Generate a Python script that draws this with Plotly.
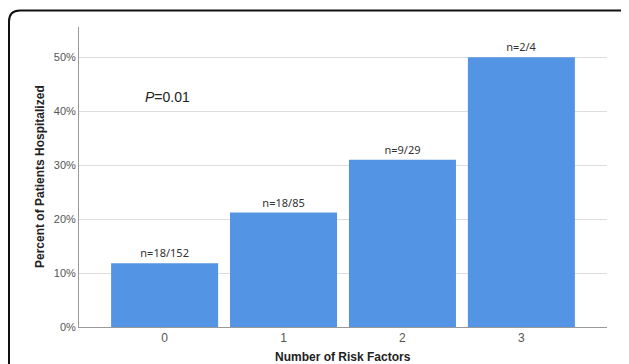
import plotly.graph_objects as go

categories = ["0", "1", "2", "3"]
percent_hospitalized = [11.8, 21.2, 31.0, 50.0]
bar_labels = ["n=18/152", "n=18/85", "n=9/29", "n=2/4"]
y_ticks = [0, 10, 20, 30, 40, 50]
y_tick_labels = ["0%", "10%", "20%", "30%", "40%", "50%"]

fig = go.Figure()
fig.add_trace(go.Bar(
    x=[0, 1, 2, 3],
    y=percent_hospitalized,
    marker=dict(color="#5494e4", line=dict(width=0)),
    text=bar_labels,
    textposition="outside",
    textfont=dict(family="Noto Sans, Liberation Sans, sans-serif", size=11, color="#333333"),
    cliponaxis=False,
    hoverinfo="skip",
))

# page body has an 8px margin; work in screen pixels and convert
OFF = 8
W, H = 621, 356
L, R, T, B = 71, 22, 19, 37
pw, ph = W - L - R, H - T - B

def px2x(sx):
    return (sx - OFF - L) / pw

def py2y(sy):
    return (H - B - (sy - OFF)) / ph

# rounded border: left side, top edge, and the start of the top-right corner
xl, xr, xe = px2x(9), px2x(625), px2x(629)
yb, yt = py2y(380), py2y(10.5)
rx, ry = 11 / pw, 11 / ph
path = (f"M {xl},{yb} L {xl},{yt-ry} Q {xl},{yt} {xl+rx},{yt} "
        f"L {xr},{yt} Q {xe},{yt} {xe},{py2y(14)}")

fig.update_layout(
    width=W, height=H,
    margin=dict(l=L, r=R, t=T, b=B),
    plot_bgcolor="white", paper_bgcolor="white",
    showlegend=False,
    bargap=0.1,
    font=dict(family="Liberation Sans, Arial, sans-serif", size=11, color="#555555"),
    xaxis=dict(
        range=[-0.72, 3.72],
        tickmode="array", tickvals=[0, 1, 2, 3], ticktext=categories,
        showgrid=False, zeroline=False,
        showline=True, linecolor="#999999", linewidth=1,
        ticks="", tickfont=dict(size=12, color="#555555"),
        fixedrange=True,
    ),
    yaxis=dict(
        range=[0, 55.6],
        tickmode="array", tickvals=y_ticks, ticktext=y_tick_labels,
        showgrid=True, gridcolor="#dddddd", gridwidth=1,
        zeroline=False,
        showline=True, linecolor="#999999", linewidth=1,
        ticks="", tickfont=dict(size=11, color="#555555"),
        fixedrange=True,
    ),
    shapes=[dict(type="path", path=path, xref="paper", yref="paper",
                 line=dict(color="#111111", width=2), layer="above")],
    annotations=[
        dict(text="<i>P</i>=0.01", x=px2x(143), y=py2y(97), xref="paper", yref="paper",
             xanchor="left", yanchor="middle", showarrow=False,
             font=dict(size=14, color="#222222", family="Liberation Sans, Arial, sans-serif")),
        dict(text="<b>Number of Risk Factors</b>", x=0.5, y=py2y(357), xref="paper", yref="paper",
             xanchor="center", yanchor="middle", showarrow=False,
             font=dict(size=12, color="#222222")),
        dict(text="<b>Percent of Patients Hospitalized</b>", x=px2x(40), y=0.5, xref="paper", yref="paper",
             xanchor="center", yanchor="middle", showarrow=False, textangle=-90,
             font=dict(size=12, color="#222222")),
    ],
)

fig.write_html(
    "out.html",
    post_script="document.documentElement.style.overflow='hidden';document.body.style.overflow='hidden';",
)
